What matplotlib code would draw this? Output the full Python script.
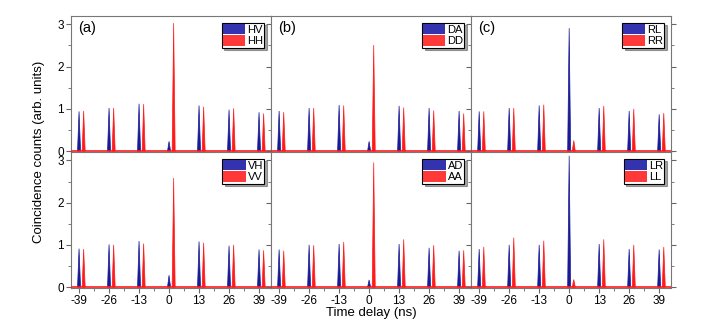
import matplotlib
import numpy as np

matplotlib.use("Agg", force=True)
import matplotlib.pyplot as plt

plt.rcParams["font.family"] = ["Liberation Sans", "DejaVu Sans"]
plt.rcParams["axes.unicode_minus"] = False

# peak positions (ns): blue series at the pulse slots, red series shifted by ~2 ns
CENTERS = [-39, -26, -13, 0, 13, 26, 39]
RED_SHIFT = 2.0
XTICKS = [-39, -26, -13, 0, 13, 26, 39]

PANEL_TAGS = ["(a)", "(b)", "(c)", None, None, None]
BLUE_LABELS = ["HV", "DA", "RL", "VH", "AD", "LR"]
RED_LABELS = ["HH", "DD", "RR", "VV", "AA", "LL"]

BLUE_PEAKS = [
    [0.94, 1.02, 1.12, 0.23, 1.08, 0.98, 0.92],
    [0.95, 1.02, 1.09, 0.23, 1.07, 1.02, 0.95],
    [0.94, 1.02, 1.08, 2.91, 1.02, 0.95, 0.87],
    [0.91, 1.01, 1.09, 0.28, 1.08, 0.98, 0.89],
    [0.89, 1.00, 1.02, 0.17, 1.02, 0.93, 0.86],
    [0.90, 1.00, 1.00, 3.11, 1.02, 0.90, 0.89],
]
RED_PEAKS = [
    [0.95, 1.02, 1.11, 3.03, 1.05, 1.01, 0.89],
    [0.92, 1.02, 1.08, 2.51, 1.03, 0.96, 0.89],
    [0.94, 1.02, 1.10, 0.25, 1.07, 1.00, 0.90],
    [0.90, 1.00, 1.03, 2.58, 1.05, 1.00, 0.87],
    [0.86, 0.99, 1.07, 2.95, 1.13, 0.99, 0.87],
    [0.95, 1.17, 1.10, 0.18, 1.13, 1.00, 0.95],
]

BLUE = "#1a1a96"
BLUE_PATCH = "#3333b0"
RED = "#ff1a1a"
RED_PATCH = "#ff3838"
HALF_WIDTH = 0.65

fig, axes = plt.subplots(2, 3, figsize=(7.14, 3.25), dpi=100, sharex=True, sharey=True)
fig.subplots_adjust(left=0.0994, right=0.940, top=0.951, bottom=0.114, wspace=0, hspace=0)

for i, ax in enumerate(axes.flat):
    for c, h in zip(CENTERS, BLUE_PEAKS[i]):
        ax.fill([c - HALF_WIDTH, c, c + HALF_WIDTH], [0, h, 0], color=BLUE, lw=0.5)
    for c, h in zip(CENTERS, RED_PEAKS[i]):
        c = c + RED_SHIFT
        ax.fill([c - HALF_WIDTH, c, c + HALF_WIDTH], [0, h, 0], color=RED, lw=0.5)
    ax.plot([-45, 46], [0, 0], color=RED, lw=1.2, zorder=3)
    ax.set_xlim(-42.5, 44.2)
    ax.set_ylim(-0.02, 3.2)
    ax.set_xticks(XTICKS)
    ax.set_xticks([-32.5, -19.5, -6.5, 6.5, 19.5, 32.5], minor=True)
    ax.set_yticks([0, 1, 2, 3])
    ax.set_yticks([0.5, 1.5, 2.5], minor=True)
    ax.tick_params(which="both", direction="out", right=True, labelsize=8.5, color="#666666", pad=1.5)
    ax.tick_params(which="major", length=3.5)
    ax.tick_params(which="minor", length=2)
    for s in ax.spines.values():
        s.set_color("#777777")
    if PANEL_TAGS[i]:
        ax.text(0.035, 0.91, PANEL_TAGS[i], transform=ax.transAxes, fontsize=10.5, va="center")
    handles = [
        matplotlib.patches.Patch(facecolor=BLUE_PATCH, edgecolor="none", label=BLUE_LABELS[i]),
        matplotlib.patches.Patch(facecolor=RED_PATCH, edgecolor="none", label=RED_LABELS[i]),
    ]
    leg = ax.legend(handles=handles, loc="upper right", fontsize=8, shadow=True, fancybox=False,
                    framealpha=1, edgecolor="black", borderpad=0.1, labelspacing=0.05,
                    handlelength=2.0, handleheight=1.1, handletextpad=0.2, borderaxespad=0.6)
    leg.get_frame().set_linewidth(0.8)

fig.text(0.054, 0.532, "Coincidence counts (arb. units)", rotation=90, ha="center", va="center", fontsize=9.5)
fig.text(0.52, 0.036, "Time delay (ns)", ha="center", va="center", fontsize=9.5)

fig.savefig("out.png", dpi=100)
